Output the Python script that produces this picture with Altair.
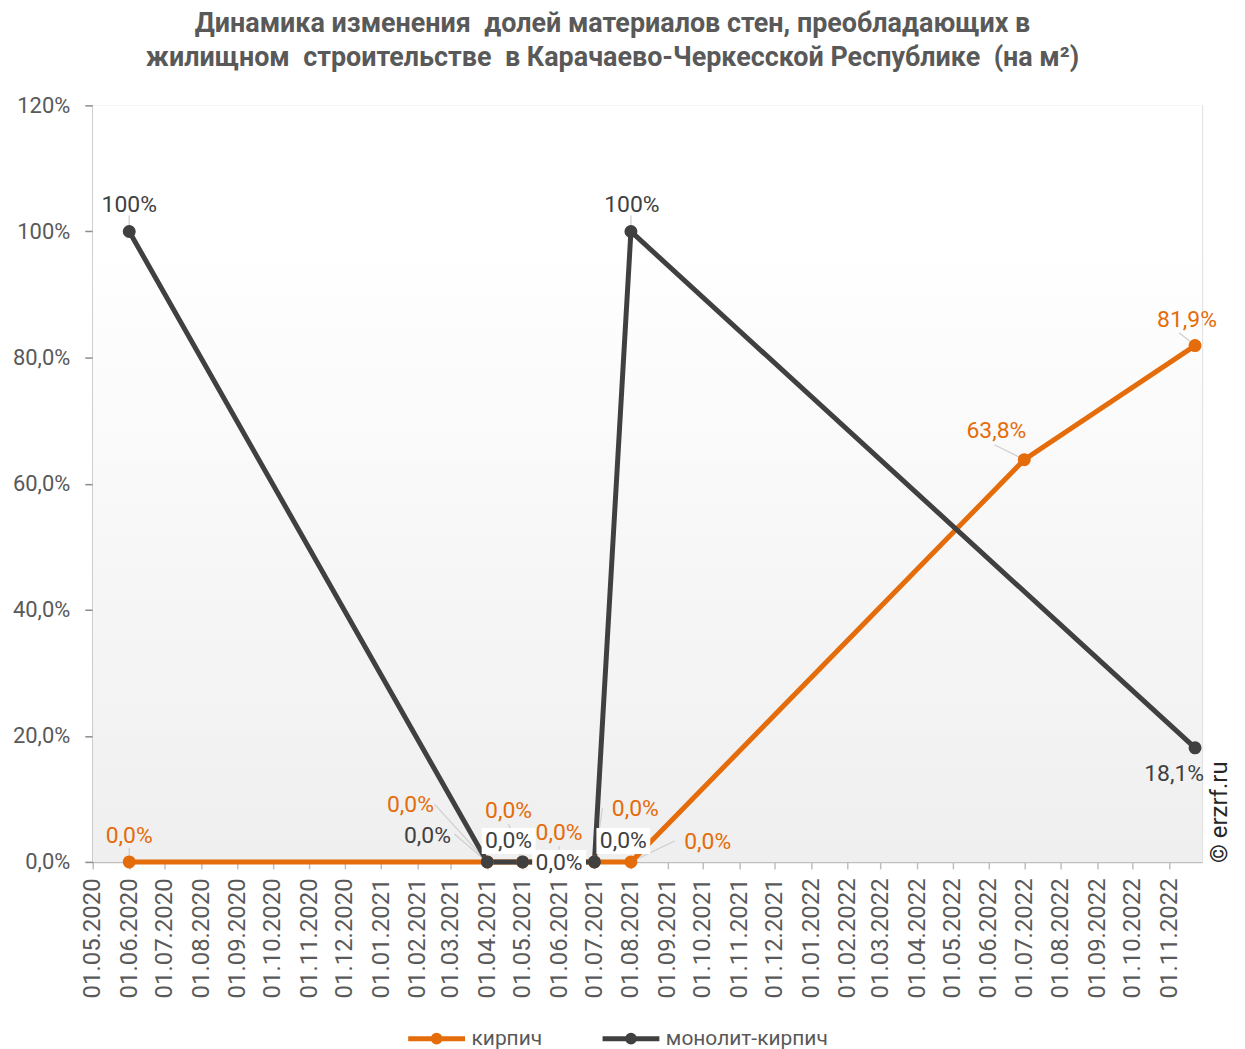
import altair as alt
import pandas as pd

# ---------------- data ----------------
dates = ["2020-06-01", "2021-04-01", "2021-05-01", "2021-06-01",
         "2021-07-01", "2021-08-01", "2022-07-01", "2022-11-23"]
brick = [0.0, 0.0, 0.0, 0.0, 0.0, 0.0, 63.8, 81.9]
mono = [100.0, 0.0, 0.0, 0.0, 0.0, 100.0, None, 18.1]
series_names = ["кирпич", "монолит-кирпич"]
series_colors = ["#E46C0A", "#404040"]

x_domain = ["2020-05-01", "2022-11-29"]
x_tick_format = "%d.%m.%Y"
y_ticks = [0, 20, 40, 60, 80, 100, 120]
title_lines = ["Динамика изменения\u00a0 долей материалов стен, преобладающих в",
               "жилищном\u00a0 строительстве\u00a0 в Карачаево-Черкесской Республике\u00a0 (на м²)"]
watermark = "© erzrf.ru"

# ---------------- label placement (pixel offsets from each point) ----------------
brick_dx = [0, -77, -14, 0, 41, 77, -28, -8]
brick_dy = [-26, -57, -51, -29, -53, -20, -29, -26]
brick_lead = [(0, -14), (-53, -58), (-14, -38), (0, -16), (8, -54), (44, -21), (-30, -15), (-16, -13)]
mono_dx = [0, -60, -14, 0, 29, 1, 0, -21]
mono_dy = [-27, -26, -21, 1, -21, -27, 0, 26]
mono_lead = [(0, -16), (-33, -28), None, None, None, (0, -16), None, None]
mono_box = [False, False, True, True, True, False, False, False]

W, H = 1113, 759
FONT = "Roboto"
TEXT_GREY = "#595959"


def fmt(v):
    if v == 100:
        return "100%"
    return f"{v:.1f}".replace(".", ",") + "%"


def dt(s):
    y, m, d = (int(p) for p in s.split("-"))
    return alt.DateTime(year=y, month=m, date=d)


rows = []
for name, vals in zip(series_names, [brick, mono]):
    for d, v in zip(dates, vals):
        if v is None:
            continue
        rows.append({"date": pd.Timestamp(d), "value": v, "series": name, "label": fmt(v)})
df = pd.DataFrame(rows)

x_enc = alt.X("date:T",
              scale=alt.Scale(domain=[dt(x_domain[0]), dt(x_domain[1])], nice=False),
              axis=alt.Axis(tickCount=alt.TimeIntervalStep(interval="month", step=1),
                            format=x_tick_format,
                            labelAngle=-90, labelFontSize=24, labelColor=TEXT_GREY,
                            labelOverlap=False, labelFlush=False, labelPadding=9,
                            tickSize=7, tickColor="#bfbfbf", domainColor="#bfbfbf",
                            domainWidth=1.5, tickWidth=1.5, grid=False, title=None))
y_enc = alt.Y("value:Q",
              scale=alt.Scale(domain=[0, 120], nice=False),
              axis=alt.Axis(values=y_ticks,
                            labelExpr="datum.value >= 100 ? format(datum.value, 'd') + '%' : replace(format(datum.value, '.1f'), '.', ',') + '%'",
                            labelFontSize=22, labelColor=TEXT_GREY, labelPadding=15,
                            tickSize=8, tickColor="#8c8c8c", domainColor="#8c8c8c",
                            domainWidth=1.5, tickWidth=1.5, grid=False, title=None,
                            minExtent=80, maxExtent=80, labelFlush=False))

legend_path = "M-1,0L1,0M-0.12,0A0.12,0.12,0,1,0,0.12,0A0.12,0.12,0,1,0,-0.12,0Z"
legend = alt.Legend(title=None, orient="none", legendX=314, legendY=H + 146,
                    direction="horizontal", symbolType=legend_path, symbolSize=3249,
                    symbolStrokeWidth=5, labelFontSize=21, labelColor=TEXT_GREY,
                    columnPadding=50, labelOffset=4, labelLimit=400)
color_enc = alt.Color("series:N", scale=alt.Scale(domain=series_names, range=series_colors),
                      legend=legend)

base = alt.Chart(df)

background = alt.Chart(alt.Data(values=[{}])).mark_rect(
    fill=alt.Gradient(gradient="linear",
                      stops=[alt.GradientStop(offset=0, color="#ffffff"),
                             alt.GradientStop(offset=0.18, color="#ffffff"),
                             alt.GradientStop(offset=1, color="#efefef")],
                      x1=0, x2=0, y1=0, y2=1)
).encode(x=alt.value(0), x2=alt.value(W), y=alt.value(0), y2=alt.value(H))

layers = [background]

# leader lines
for name, leads in zip(series_names, [brick_lead, mono_lead]):
    vals = brick if name == series_names[0] else mono
    for d, v, ld in zip(dates, vals, leads):
        if v is None or ld is None:
            continue
        sub = df[(df.series == name) & (df.date == pd.Timestamp(d))]
        layers.append(alt.Chart(sub).mark_rule(color="#d0d0d0", strokeWidth=1.3,
                                               x2Offset=ld[0], y2Offset=ld[1]).encode(
            x="date:T", x2="date:T", y="value:Q", y2="value:Q"))

lines = base.mark_line(strokeWidth=5).encode(x=x_enc, y=y_enc, color=color_enc)
points = base.mark_circle(size=170, opacity=1).encode(x="date:T", y="value:Q", color=color_enc)
layers += [lines, points]

# label boxes and labels
for name, col, dxs, dys, vals in [(series_names[0], series_colors[0], brick_dx, brick_dy, brick),
                                  (series_names[1], series_colors[1], mono_dx, mono_dy, mono)]:
    for i, (d, v) in enumerate(zip(dates, vals)):
        if v is None:
            continue
        sub = df[(df.series == name) & (df.date == pd.Timestamp(d))]
        dx, dy = dxs[i], dys[i]
        if name == series_names[1] and mono_box[i]:
            layers.append(alt.Chart(sub).mark_rect(fill="white", xOffset=dx - 27, x2Offset=dx + 27,
                                                   yOffset=dy - 13, y2Offset=dy + 13).encode(
                x="date:T", x2="date:T", y="value:Q", y2="value:Q"))
        layers.append(alt.Chart(sub).mark_text(dx=dx, dy=dy, fontSize=23, color=col, font=FONT,
                                               baseline="middle", align="center").encode(
            x="date:T", y="value:Q", text="label:N"))

wm = alt.Chart(alt.Data(values=[{}])).mark_text(
    text=watermark, angle=270, align="left", baseline="middle", fontSize=24,
    color="#262626", font=FONT).encode(x=alt.value(W + 18), y=alt.value(H + 1))
layers.append(wm)

chart = alt.layer(*layers).properties(
    width=W, height=H,
    padding={"left": 4, "top": 0, "right": 5, "bottom": 0},
    title=alt.TitleParams(text=title_lines, fontSize=27, fontWeight="bold", color=TEXT_GREY,
                          font=FONT, anchor="middle", lineHeight=34, offset=23, dx=-35)
).configure_view(stroke=None).configure(font=FONT)

chart.save("out.html", embed_options={"renderer": "svg", "actions": False})
